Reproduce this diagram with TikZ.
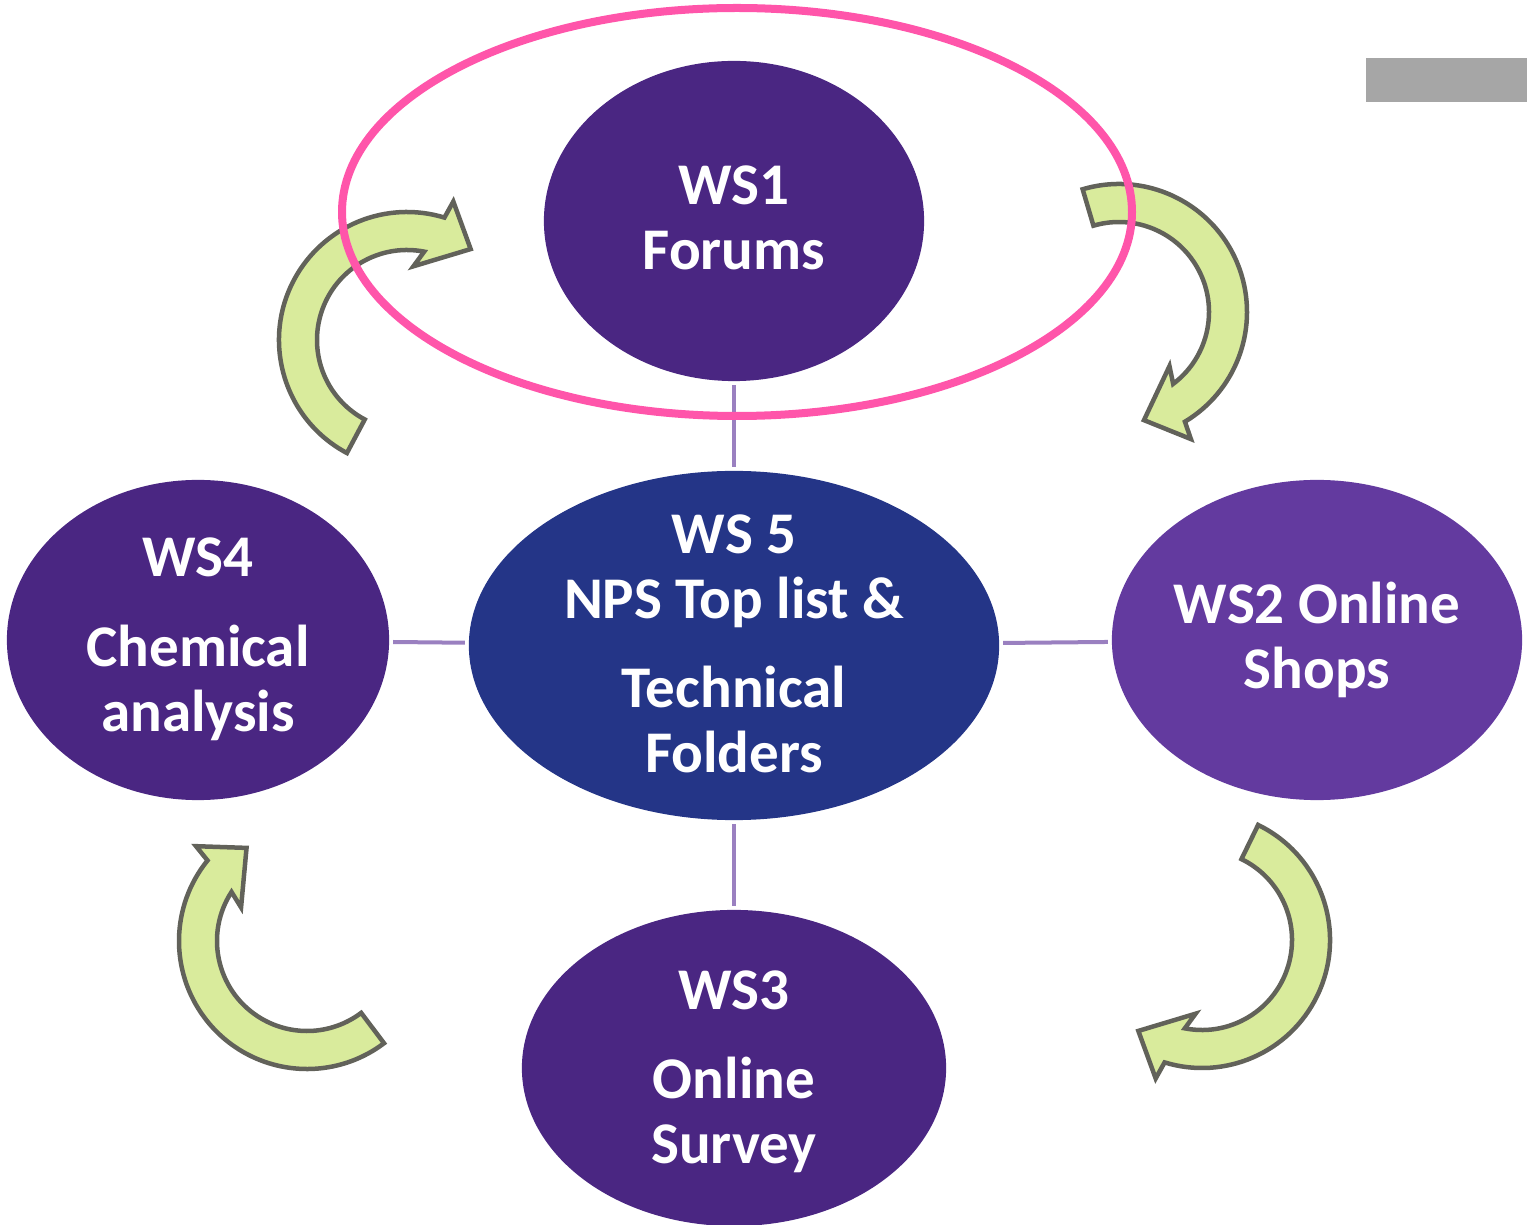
\documentclass[tikz,border=0pt]{standalone}
\usepackage{fontspec}
\setmainfont{Carlito}
\usetikzlibrary{shapes.geometric}
\definecolor{darkpurple}{HTML}{4A2682}
\definecolor{navyblue}{HTML}{243587}
\definecolor{midpurple}{HTML}{633A9F}
\definecolor{pinkring}{HTML}{FF55AA}
\definecolor{connline}{HTML}{9A80C0}
\definecolor{arrowfill}{HTML}{D9EB9C}
\definecolor{arrowline}{HTML}{62625A}
\definecolor{greybar}{HTML}{A6A6A6}
\tikzset{
  ws/.style={ellipse, inner sep=0pt, outer sep=0pt},
  wstext/.style={inner sep=0pt, text=white, align=center,
    font=\fontsize{16.8}{18.5}\selectfont\bfseries},
  conn/.style={draw=connline, line width=0.04cm, shorten <=0.04cm, shorten >=0.04cm},
  greenarrow/.style={fill=arrowfill, draw=arrowline, line width=0.045cm, line join=miter},
  ring/.style={draw=pinkring, line width=0.08cm}
}
\newcommand\bentarrow[4]{%
  \draw[greenarrow, shift={(#1,#2)}] (#3:128) arc[start angle=#3, end angle=#4, radius=128]
    -- ({#4-1.5}:146) -- ({#4-18}:111) -- ({#4+12}:74) -- ({#4+6}:90)
    arc[start angle={#4+6}, end angle=#3, radius=90] -- cycle;}
\begin{document}
\begin{tikzpicture}[x=0.01cm, y=0.01cm]
\useasboundingbox (0,0) rectangle (1527,-1225);
% grey bar
\fill[greybar] (1366,-58) rectangle (1527,-102);
% curved arrows
\bentarrow{407}{-340}{242}{73}
\bentarrow{1119}{-312}{106.5}{-59}
\bentarrow{307}{-941}{-53}{-219}
\bentarrow{1202}{-940}{64}{-107}
% nodes
\node[ws, fill=darkpurple, minimum width=3.8cm, minimum height=3.2cm] (ws1) at (734,-221) {};
\node[ws, fill=navyblue, minimum width=5.3cm, minimum height=3.49cm] (ws5) at (734,-645.5) {};
\node[ws, fill=darkpurple, minimum width=3.82cm, minimum height=3.2cm] (ws4) at (198,-640) {};
\node[ws, fill=midpurple, minimum width=4.1cm, minimum height=3.2cm] (ws2) at (1317,-640) {};
\node[ws, fill=darkpurple, minimum width=4.24cm, minimum height=3.16cm] (ws3) at (734,-1068) {};
% texts
\node[wstext] (t1) at (734,-218) {WS1\\Forums};
\node[wstext] (t5) at (734,-644) {WS 5\\NPS Top list \&\\[0.24cm]Technical\\Folders};
\node[wstext] (t4) at (198,-639) {WS4\\[0.25cm]Chemical\\analysis};
\node[wstext] (t2) at (1317,-640) {WS2 Online\\Shops};
\node[wstext] (t3) at (734,-1072) {WS3\\[0.24cm]Online\\Survey};
% connectors
\draw[conn] (ws1) -- (ws5);
\draw[conn] (ws4) -- (ws5);
\draw[conn] (ws5) -- (ws2);
\draw[conn] (ws5) -- (ws3);
% pink ring
\draw[ring] (737,-212) ellipse[x radius=395, y radius=204];
\end{tikzpicture}
\end{document}
